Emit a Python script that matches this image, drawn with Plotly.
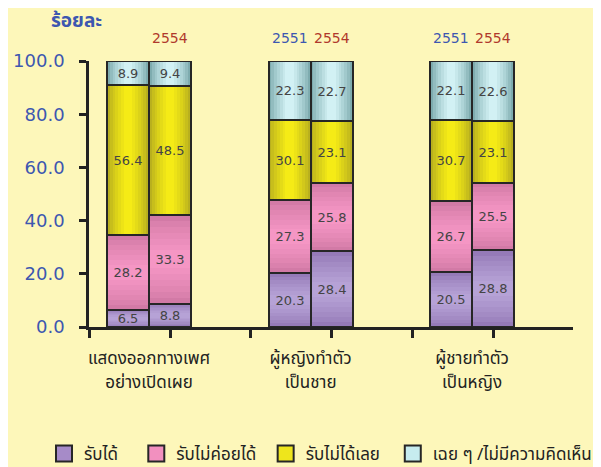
import plotly.graph_objects as go

# ---- data ----
cat_line1 = ["แสดงออกทางเพศ", "ผู้หญิงทำตัว", "ผู้ชายทำตัว"]
cat_line2 = ["อย่างเปิดเผย", "เป็นชาย", "เป็นหญิง"]
years = ["2551", "2554"]
year_labels_shown = [["", "2554"], ["2551", "2554"], ["2551", "2554"]]
series_names = ["รับได้", "รับไม่ค่อยได้", "รับไม่ได้เลย", "เฉย ๆ /ไม่มีความคิดเห็น"]
# values per series: [cat0-2551, cat0-2554, cat1-2551, cat1-2554, cat2-2551, cat2-2554]
accept = [6.5, 8.8, 20.3, 28.4, 20.5, 28.8]
rarely_accept = [28.2, 33.3, 27.3, 25.8, 26.7, 25.5]
not_accept = [56.4, 48.5, 30.1, 23.1, 30.7, 23.1]
neutral = [8.9, 9.4, 22.3, 22.7, 22.1, 22.6]
y_ticks = [0, 20, 40, 60, 80, 100]
y_title = "ร้อยละ"

series_values = [accept, rarely_accept, not_accept, neutral]

# ---- styles ----
# (edge colour, centre colour, gradient direction)
styles = [("#957ab8", "#b6a2d6", "v"), ("#d27aa6", "#f596c4", "v"),
          ("#b9b01e", "#f5eb16", "h"), ("#7eacaf", "#d2f1f4", "h")]
legend_colors = ["#a68bc8", "#f290bf", "#eee51c", "#c6ecef"]
legend_pad = ["\u00a0\u00a0\u00a0", "\u00a0", "\u00a0\u2009", ""]
year_colors = {"2551": "#3d57b0", "2554": "#b0392c"}
FONT = "Tahoma, Noto Sans Thai, Noto Sans, DejaVu Sans, sans-serif"
NUMFONT = "Tahoma, DejaVu Sans, sans-serif"
bar_w = 0.26
year_offsets = [-0.13, 0.13]
ncat = len(cat_line1)
xpos = [ci + off for ci in range(ncat) for off in year_offsets]
plot_w, plot_h = 484, 266
NLAYERS = 7


def mix(c1, c2, t):
    a = [int(c1[i:i + 2], 16) for i in (1, 3, 5)]
    b = [int(c2[i:i + 2], 16) for i in (1, 3, 5)]
    return "#" + "".join(f"{round(a[k] + (b[k] - a[k]) * t):02x}" for k in range(3))


fig = go.Figure()
bases = [0.0] * len(xpos)
for name, vals, (edge, centre, direction) in zip(series_names, series_values, styles):
    # gradient layers
    for k in range(NLAYERS):
        t = k / (NLAYERS - 1)
        col = mix(edge, centre, t ** 0.8)
        shrink = 1 - 0.8 * k / (NLAYERS - 1)
        if direction == "h":
            ys, bs, ws = list(vals), list(bases), bar_w * shrink
        else:
            ys = [v * shrink for v in vals]
            bs = [b + v * (1 - shrink) / 2 for b, v in zip(bases, vals)]
            ws = bar_w
        fig.add_trace(go.Bar(x=xpos, y=ys, base=bs, width=ws, marker=dict(color=col, line=dict(width=0)),
                             showlegend=False, hoverinfo="skip"))
    # outline + labels
    fig.add_trace(go.Bar(
        x=xpos, y=vals, base=list(bases), width=bar_w, name=name,
        marker=dict(color="rgba(0,0,0,0)", line=dict(color="#262626", width=2)),
        text=[f"{v:.1f}" for v in vals], textposition="inside",
        insidetextanchor="middle", constraintext="none",
        textfont=dict(family=NUMFONT, size=13, color="#444444"),
        showlegend=False, hoverinfo="skip",
    ))
    bases = [b + v for b, v in zip(bases, vals)]

for name, col, pad in zip(series_names, legend_colors, legend_pad):
    fig.add_trace(go.Scatter(
        x=[None], y=[None], mode="markers", name=name + pad,
        marker=dict(symbol="square", size=16, color=col, line=dict(color="#262626", width=2)),
        showlegend=True,
    ))
# dummy trace for second-line category axis
fig.add_trace(go.Scatter(x=[None], y=[None], xaxis="x2", showlegend=False, hoverinfo="skip"))

# year labels above bars
for ci, labs in enumerate(year_labels_shown):
    for yi, lab in enumerate(labs):
        if lab:
            fig.add_annotation(x=ci + year_offsets[yi], y=1 + 23 / plot_h, xref="x", yref="paper",
                               text=lab, showarrow=False, yanchor="middle",
                               font=dict(family=NUMFONT, size=14, color=year_colors[lab]))

fig.add_annotation(x=-40 / plot_w, y=1 + 40 / plot_h, xref="paper", yref="paper",
                   text=f"<b>{y_title}</b>", showarrow=False, xanchor="left", yanchor="middle",
                   font=dict(family=FONT, size=19, color="#3d57b0"))

boundaries = [-0.37 + 0.5 * k for k in range(7)]
xrange = [-0.372, 2.625]

fig.update_layout(
    width=593, height=459,
    margin=dict(l=81, r=28, t=53, b=140, autoexpand=False),
    paper_bgcolor="#fdf7ba", plot_bgcolor="#fdf7ba",
    barmode="overlay", bargap=0,
    font=dict(family=FONT, color="#222222"),
    xaxis=dict(range=xrange, tickvals=list(range(ncat)), ticktext=cat_line1, automargin=False,
               ticks="", showline=True, linecolor="#222222", linewidth=2.5, showgrid=False,
               zeroline=False, tickfont=dict(size=17, color="#222222"), ticklabelstandoff=14,
               minor=dict(tickvals=boundaries, ticks="outside", ticklen=8, tickwidth=2.5, tickcolor="#222222")),
    xaxis2=dict(range=xrange, overlaying="x", anchor="y", side="bottom", matches="x", automargin=False,
                tickvals=list(range(ncat)), ticktext=cat_line2, ticks="", showline=False,
                showgrid=False, zeroline=False, tickfont=dict(size=17, color="#222222"),
                ticklabelstandoff=43),
    yaxis=dict(range=[0, 100], tickvals=y_ticks, ticktext=[f"{v:.1f}" for v in y_ticks], automargin=False,
               ticks="outside", ticklen=7, tickwidth=2.5, tickcolor="#222222",
               showline=True, linecolor="#222222", linewidth=2.5, showgrid=False, zeroline=False,
               tickfont=dict(family=NUMFONT, size=18, color="#3d57b0"), ticklabelstandoff=11),
    legend=dict(orientation="h", xref="paper", yref="paper", x=-45 / plot_w, y=-127 / plot_h,
                xanchor="left", yanchor="middle", font=dict(size=17, color="#222222"),
                bgcolor="rgba(0,0,0,0)"),
)

fig.write_html("out.html")
